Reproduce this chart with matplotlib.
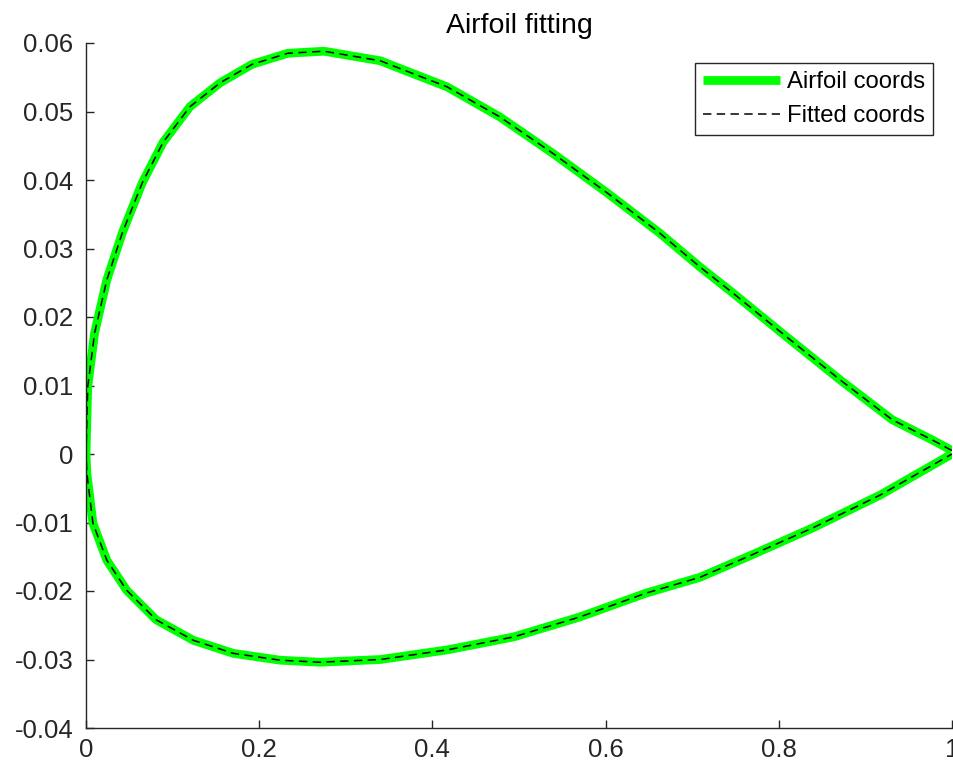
import matplotlib
matplotlib.use("Agg")
import matplotlib.pyplot as plt

plt.rcParams['font.family'] = ['Liberation Sans', 'DejaVu Sans']
plt.rcParams['axes.unicode_minus'] = False

# Upper surface, leading edge -> trailing edge
x_upper = [0.000, 0.001, 0.002, 0.010, 0.024, 0.042, 0.065, 0.089, 0.120, 0.155,
           0.192, 0.233, 0.275, 0.340, 0.362, 0.417, 0.478, 0.539, 0.602, 0.662,
           0.709, 0.747, 0.809, 0.871, 0.931, 0.978, 1.000]
y_upper = [0.0000, 0.0050, 0.0098, 0.0177, 0.0254, 0.0323, 0.0396, 0.0455, 0.0507, 0.0542,
           0.0569, 0.0585, 0.0588, 0.0574, 0.0563, 0.0536, 0.0492, 0.0439, 0.0381, 0.0323,
           0.0273, 0.0235, 0.0171, 0.0108, 0.0050, 0.0020, 0.0005]

# Lower surface, leading edge -> trailing edge
x_lower = [0.000, 0.001, 0.008, 0.024, 0.047, 0.081, 0.124, 0.170, 0.224, 0.270,
           0.340, 0.417, 0.494, 0.570, 0.647, 0.709, 0.764, 0.839, 0.917, 1.000]
y_lower = [0.0000, -0.0028, -0.0101, -0.0155, -0.0199, -0.0242, -0.0272, -0.0291, -0.0301, -0.0304,
           -0.0300, -0.0286, -0.0267, -0.0238, -0.0203, -0.0180, -0.0150, -0.0108, -0.0060, 0.0000]

# Selig-style loop: TE -> upper -> LE -> lower -> TE
airfoil_x = x_upper[::-1] + x_lower[1:]
airfoil_y = y_upper[::-1] + y_lower[1:]
fitted_x = list(airfoil_x)
fitted_y = list(airfoil_y)

xticks = [0, 0.2, 0.4, 0.6, 0.8, 1]
xtick_labels = ['0', '0.2', '0.4', '0.6', '0.8', '1']
yticks = [-0.04, -0.03, -0.02, -0.01, 0, 0.01, 0.02, 0.03, 0.04, 0.05, 0.06]
ytick_labels = ['-0.04', '-0.03', '-0.02', '-0.01', '0', '0.01', '0.02', '0.03', '0.04', '0.05', '0.06']

W, H = 954, 769
fig = plt.figure(figsize=(W / 100, H / 100), dpi=100)
ax = fig.add_axes([86 / W, 1 - 728 / H, (952 - 86) / W, (728 - 43) / H])

ax.plot(airfoil_x, airfoil_y, color='#00ff00', linewidth=6.3, label='Airfoil coords',
        solid_capstyle='butt', solid_joinstyle='round')
ax.plot(fitted_x, fitted_y, color='black', linewidth=1.1, linestyle=(0, (5.5, 3.5)),
        label='Fitted coords')

ax.set_xlim(0, 1)
ax.set_ylim(-0.04, 0.06)
ax.set_xticks(xticks)
ax.set_xticklabels(xtick_labels)
ax.set_yticks(yticks)
ax.set_yticklabels(ytick_labels)

txt = '#262626'
for s in ['top', 'right']:
    ax.spines[s].set_visible(False)
for s in ['left', 'bottom']:
    ax.spines[s].set_color(txt)
    ax.spines[s].set_linewidth(1.0)
ax.tick_params(direction='in', length=6, width=1, colors=txt, labelsize=18.5)
ax.tick_params(axis='y', pad=9)
ax.tick_params(axis='x', pad=7)

ax.set_title('Airfoil fitting', fontsize=20.5, color='black', pad=7)

leg = ax.legend(loc='upper right', bbox_to_anchor=(933 / W, 1 - 63 / H),
                bbox_transform=fig.transFigure, fontsize=17.2, fancybox=False,
                framealpha=1, edgecolor=txt, handlelength=3.2, handletextpad=0.3,
                labelspacing=0.52, borderpad=0.33, borderaxespad=0)
leg.get_frame().set_linewidth(1.0)

plt.savefig('out.png', dpi=100)
